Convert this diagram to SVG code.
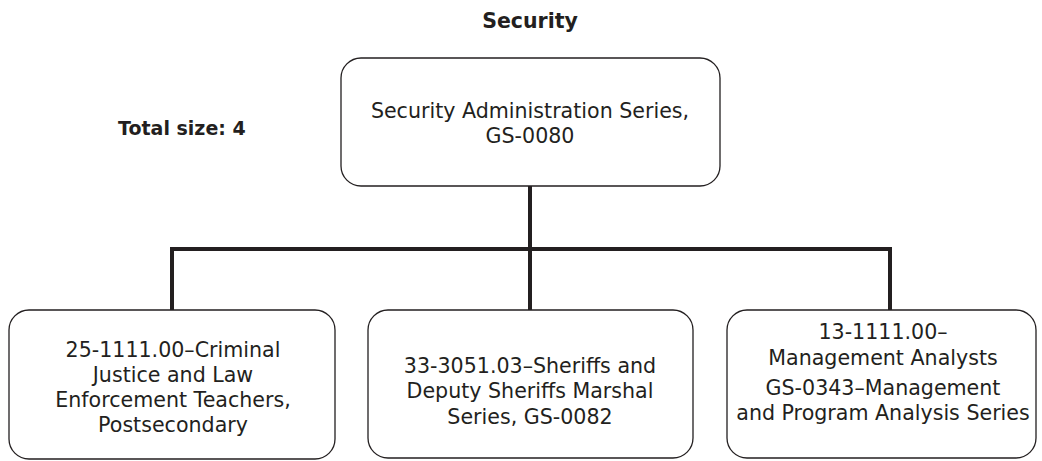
<svg xmlns="http://www.w3.org/2000/svg" width="1042" height="461" viewBox="0 0 1042 461">
  <style>
    .box { fill: #ffffff; stroke: #231f20; stroke-width: 1.3; }
    .lbl { font-family: "DejaVu Sans", "Open Sans", sans-serif; font-size: 20.6px; fill: #231f20; text-anchor: middle; }
    .hdr { font-family: "DejaVu Sans", "Open Sans", sans-serif; font-weight: bold; fill: #231f20; }
    .wire { fill: none; stroke: #231f20; stroke-width: 4; }
  </style>
  <rect width="1042" height="461" fill="#ffffff"/>

  <text class="hdr" x="530" y="28" font-size="20.5" text-anchor="middle">Security</text>
  <text class="hdr" x="118" y="135" font-size="19">Total size: 4</text>

  <!-- connectors -->
  <g id="connectors">
    <path class="wire" d="M530 186 V249 M170 249 H892 M172 249 V310 M530 249 V310 M890 249 V310"/>
  </g>

  <g id="node-root">
    <rect class="box" x="341" y="58" width="379" height="128" rx="20"/>
    <text class="lbl" x="530" y="118">Security Administration Series,</text>
    <text class="lbl" x="530" y="143">GS-0080</text>
  </g>

  <g id="node-criminal-justice">
    <rect class="box" x="9" y="310" width="326" height="149" rx="20"/>
    <text class="lbl" x="173" y="357">25-1111.00–Criminal</text>
    <text class="lbl" x="173" y="382">Justice and Law</text>
    <text class="lbl" x="173" y="407">Enforcement Teachers,</text>
    <text class="lbl" x="173" y="432">Postsecondary</text>
  </g>

  <g id="node-sheriffs">
    <rect class="box" x="368" y="310" width="325" height="148" rx="20"/>
    <text class="lbl" x="530" y="373">33-3051.03–Sheriffs and</text>
    <text class="lbl" x="530" y="398">Deputy Sheriffs Marshal</text>
    <text class="lbl" x="530" y="424">Series, GS-0082</text>
  </g>

  <g id="node-management">
    <rect class="box" x="727" y="310" width="309" height="148" rx="20"/>
    <text class="lbl" x="883" y="339">13-1111.00–</text>
    <text class="lbl" x="883" y="365">Management Analysts</text>
    <text class="lbl" x="883" y="395">GS-0343–Management</text>
    <text class="lbl" x="883" y="420">and Program Analysis Series</text>
  </g>
</svg>
